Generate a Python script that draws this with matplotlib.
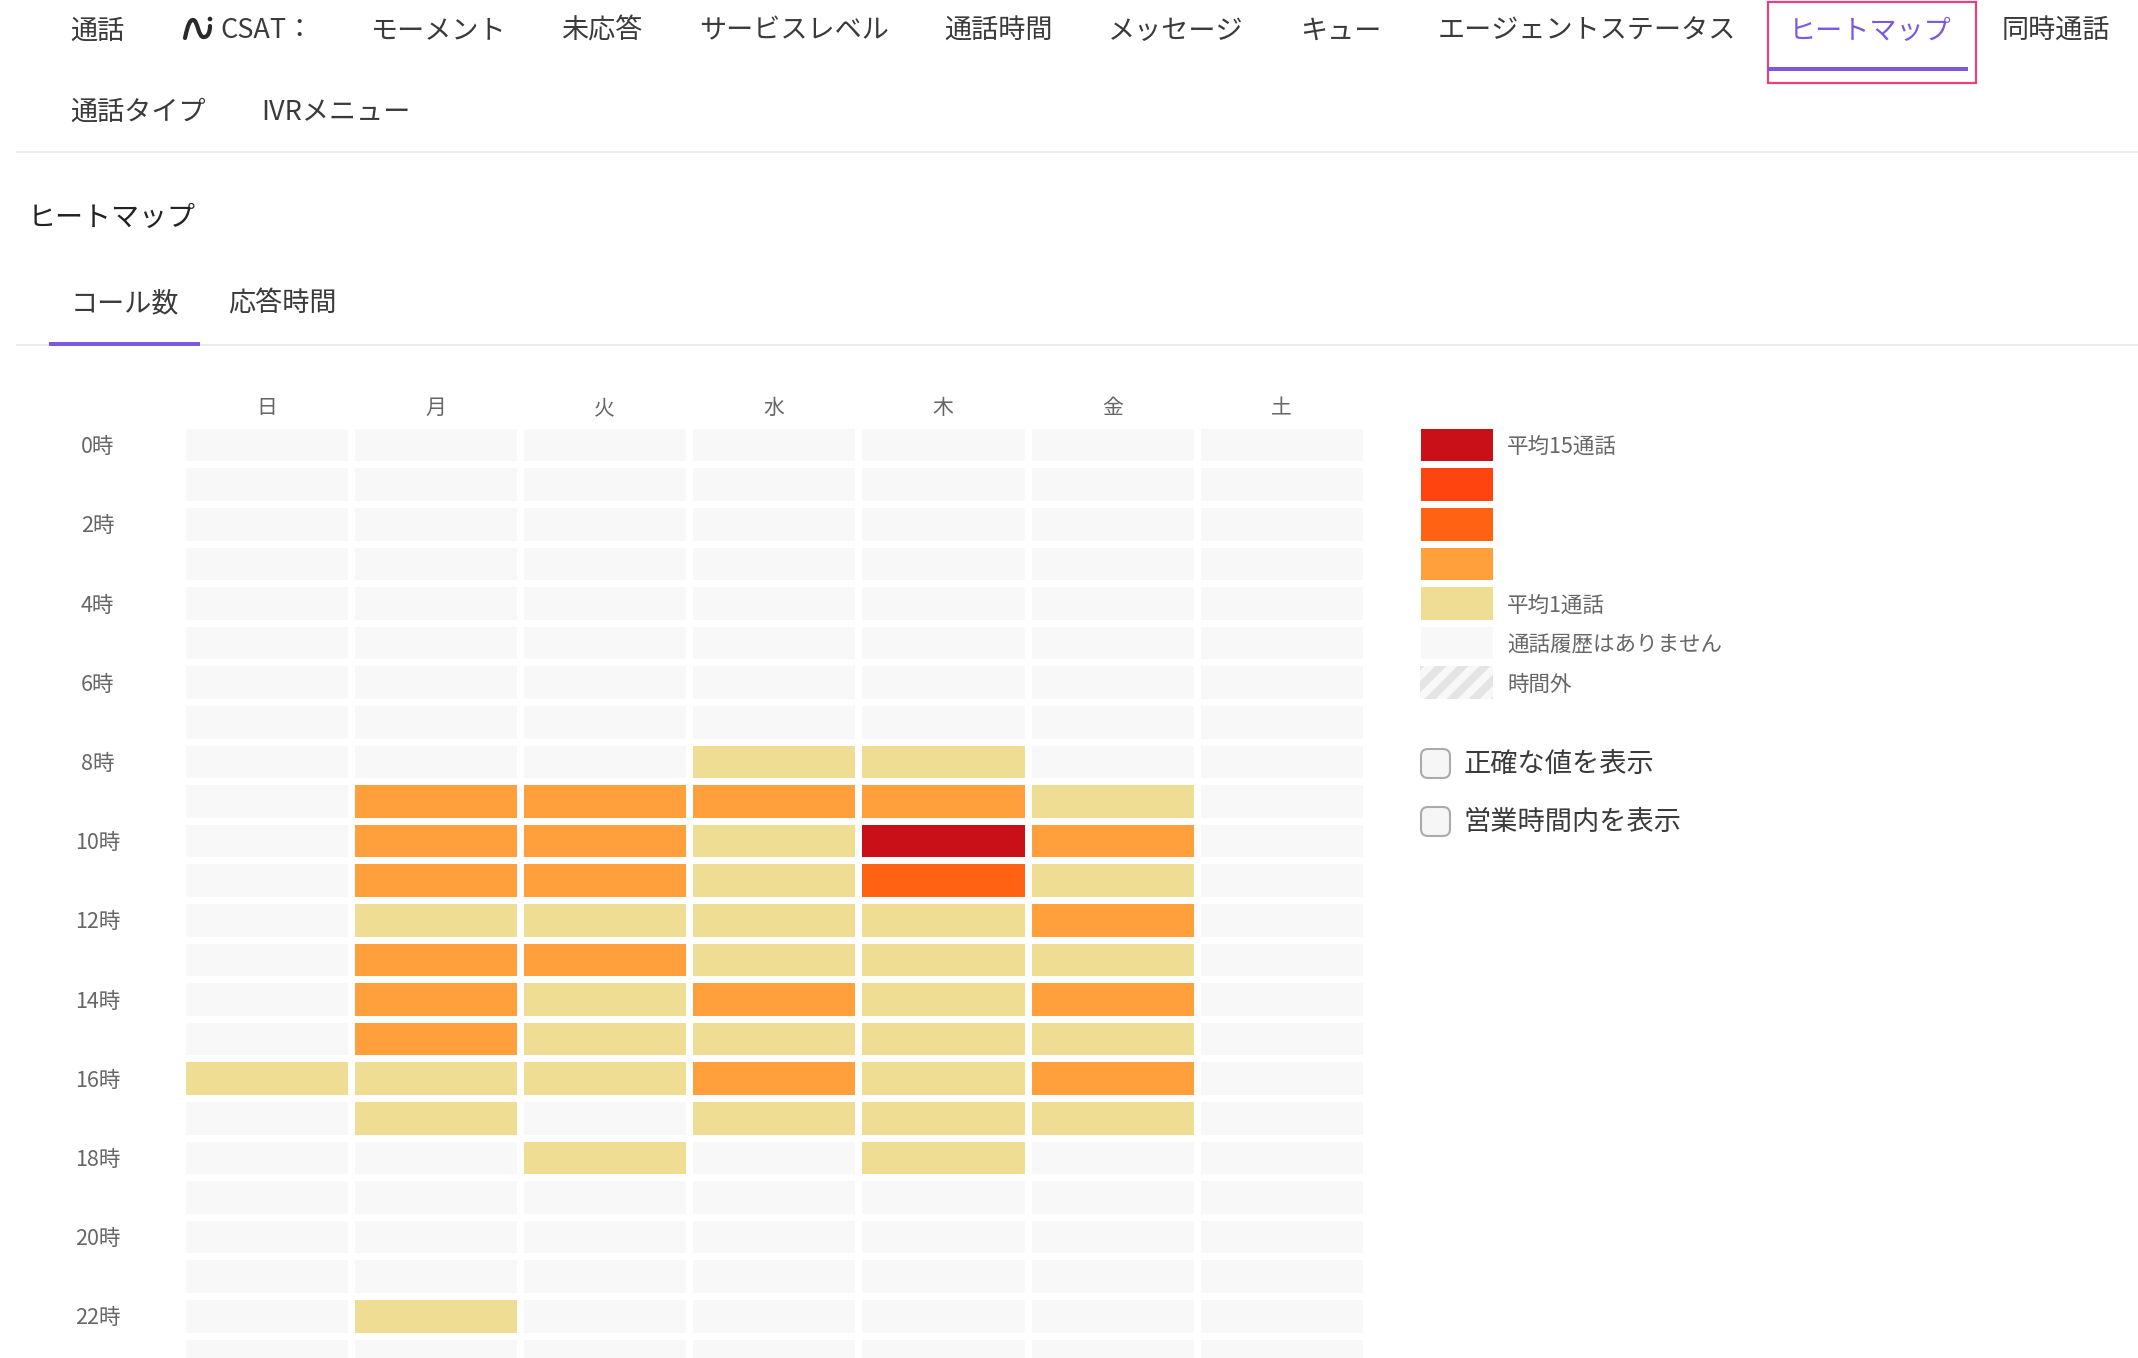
import numpy as np
import matplotlib
matplotlib.use("Agg")
import matplotlib.pyplot as plt
from matplotlib.colors import ListedColormap
from matplotlib.patches import Circle, FancyBboxPatch, PathPatch, Rectangle
from matplotlib.path import Path

plt.rcParams['font.family'] = ['Noto Sans CJK JP', 'DejaVu Sans']

W, H = 2138, 1358
DPI = 100

# ---------------------------
# Data
# ---------------------------
days = ['日', '月', '火', '水', '木', '金', '土']
hours = [f'{h}時' for h in range(0, 24, 2)]

# level per hour (rows) and weekday (columns): 0 = no calls, 1 = avg 1 call ... 5 = avg 15 calls
levels = [
    [0, 0, 0, 0, 0, 0, 0],
    [0, 0, 0, 0, 0, 0, 0],
    [0, 0, 0, 0, 0, 0, 0],
    [0, 0, 0, 0, 0, 0, 0],
    [0, 0, 0, 0, 0, 0, 0],
    [0, 0, 0, 0, 0, 0, 0],
    [0, 0, 0, 0, 0, 0, 0],
    [0, 0, 0, 0, 0, 0, 0],
    [0, 0, 0, 1, 1, 0, 0],
    [0, 2, 2, 2, 2, 1, 0],
    [0, 2, 2, 1, 5, 2, 0],
    [0, 2, 2, 1, 3, 1, 0],
    [0, 1, 1, 1, 1, 2, 0],
    [0, 2, 2, 1, 1, 1, 0],
    [0, 2, 1, 2, 1, 2, 0],
    [0, 2, 1, 1, 1, 1, 0],
    [1, 1, 1, 2, 1, 2, 0],
    [0, 1, 0, 1, 1, 1, 0],
    [0, 0, 1, 0, 1, 0, 0],
    [0, 0, 0, 0, 0, 0, 0],
    [0, 0, 0, 0, 0, 0, 0],
    [0, 0, 0, 0, 0, 0, 0],
    [0, 1, 0, 0, 0, 0, 0],
    [0, 0, 0, 0, 0, 0, 0],
]

level_colors = ['#F8F8F9', '#EFDD94', '#FFA03C', '#FF6213', '#FF4410', '#C91018']
legend_levels = [5, 4, 3, 2, 1, 0]
legend_labels = ['平均15通話', '', '', '', '平均1通話', '通話履歴はありません', '時間外']

nav_row1 = ['通話', 'CSAT：', 'モーメント', '未応答', 'サービスレベル', '通話時間',
            'メッセージ', 'キュー', 'エージェントステータス', 'ヒートマップ', '同時通話']
nav_row1_x = [70, 220, 371, 561, 699, 944, 1108, 1300, 1438, 1789, 2002]
nav_row2 = ['通話タイプ', 'IVRメニュー']
nav_row2_x = [70, 261]
checkboxes = ['正確な値を表示', '営業時間内を表示']

DARK = '#3A3A3A'
GREY = '#666666'
PURPLE = '#7B58E0'
PINK = '#E8407A'
RULE = '#E9E9E9'


def px_rect(x0, y0, x1, y1):
    # pixel box (origin top left) to figure fractions
    return [x0 / W, 1 - y1 / H, (x1 - x0) / W, (y1 - y0) / H]


cmap = ListedColormap(level_colors)
fig = plt.figure(figsize=(W / DPI, H / DPI), dpi=DPI, facecolor='white')

# ---------------------------
# Page chrome, in pixel coordinates
# ---------------------------
page = fig.add_axes([0, 0, 1, 1], zorder=3)
page.set_xlim(0, W)
page.set_ylim(H, 0)
page.axis('off')

for label, x in zip(nav_row1, nav_row1_x):
    color = PURPLE if label == 'ヒートマップ' else DARK
    page.text(x, 31, label, fontsize=19.5, color=color, va='center', ha='left')
for label, x in zip(nav_row2, nav_row2_x):
    page.text(x, 112.5, label, fontsize=19.5, color=DARK, va='center', ha='left')

# logo: a curved N and an i
logo = Path([(185, 38), (188, 24), (190, 20), (193, 20), (198, 20), (198, 38), (204, 37),
             (208, 37), (210, 32), (210, 26)],
            [Path.MOVETO] + [Path.CURVE4] * 9)
page.add_patch(PathPatch(logo, fill=False, edgecolor='#2A2A2A', linewidth=3, capstyle='round'))
page.add_patch(Circle((210, 19), 2.3, facecolor='#2A2A2A', edgecolor='none'))

page.add_patch(Rectangle((1768, 2), 208, 81, fill=False, edgecolor=PINK, linewidth=1.6))
page.add_patch(Rectangle((1767, 67), 201, 4, facecolor=PURPLE, edgecolor='none', zorder=3))
page.plot([17, W], [152, 152], color=RULE, linewidth=1.2)

page.text(28, 218, 'ヒートマップ', fontsize=20.2, color='#222222', va='center', ha='left')
page.text(71, 303.5, 'コール数', fontsize=19.5, color=DARK, va='center', ha='left')
page.text(228, 303.5, '応答時間', fontsize=19.5, color=DARK, va='center', ha='left')
page.plot([17, W], [345, 345], color=RULE, linewidth=1.2)
page.add_patch(Rectangle((49, 341.5), 151, 4, facecolor=PURPLE, edgecolor='none', zorder=3))

# ---------------------------
# Heatmap
# ---------------------------
top, step = 424.8, 39.6
ax = fig.add_axes(px_rect(181.8, top, 1366, H))
ax.pcolormesh(np.array(levels), cmap=cmap, vmin=-0.5, vmax=5.5, edgecolors='white', linewidth=5)
ax.set_xlim(0, len(days))
ax.set_ylim((H - top) / step, 0)
for spine in ax.spines.values():
    spine.set_visible(False)
ax.xaxis.tick_top()
ax.set_xticks(np.arange(len(days)) + 0.5)
ax.set_xticklabels(days, fontsize=15, color=GREY, va='center')
ax.set_yticks(np.arange(0, 24, 2) + 0.5)
ax.set_yticklabels(hours, fontsize=15.5, color=GREY, ha='center')
ax.tick_params(axis='x', length=0, pad=12)
ax.tick_params(axis='y', length=0, pad=60.8)

# ---------------------------
# Legend
# ---------------------------
leg = fig.add_axes(px_rect(1416.5, top, 1495.5, top + 7 * step))
leg.pcolormesh(np.array(legend_levels)[:, None], cmap=cmap, vmin=-0.5, vmax=5.5,
               edgecolors='white', linewidth=5)
leg.set_xlim(0, 1)
leg.set_ylim(7, 0)
leg.axis('off')

# out-of-hours swatch: diagonal stripes clipped to the box
swatch = Rectangle((1420, 666), 72.5, 32.5, facecolor='#F8F8F8', edgecolor='none')
page.add_patch(swatch)
for x in range(1386, 1500, 22):
    stripe, = page.plot([x - 8, x + 42], [707, 657], color='#E4E4E4', linewidth=5.6, solid_capstyle='butt')
    stripe.set_clip_path(swatch)

for i, label in enumerate(legend_labels):
    if label:
        page.text(1507, top + (i + 0.5) * step + 2.5, label, fontsize=15.5, color=GREY, va='center', ha='left')

# ---------------------------
# Checkboxes
# ---------------------------
for label, y in zip(checkboxes, [749, 807]):
    page.add_patch(FancyBboxPatch((1425, y + 4), 21, 21, boxstyle='round,pad=4,rounding_size=7',
                                  facecolor='#F6F6F6', edgecolor='#ABABAB', linewidth=1.5))
    page.text(1464, y + 15.5, label, fontsize=19.6, color=DARK, va='center', ha='left')

fig.savefig('out.png', dpi=DPI, facecolor='white')
